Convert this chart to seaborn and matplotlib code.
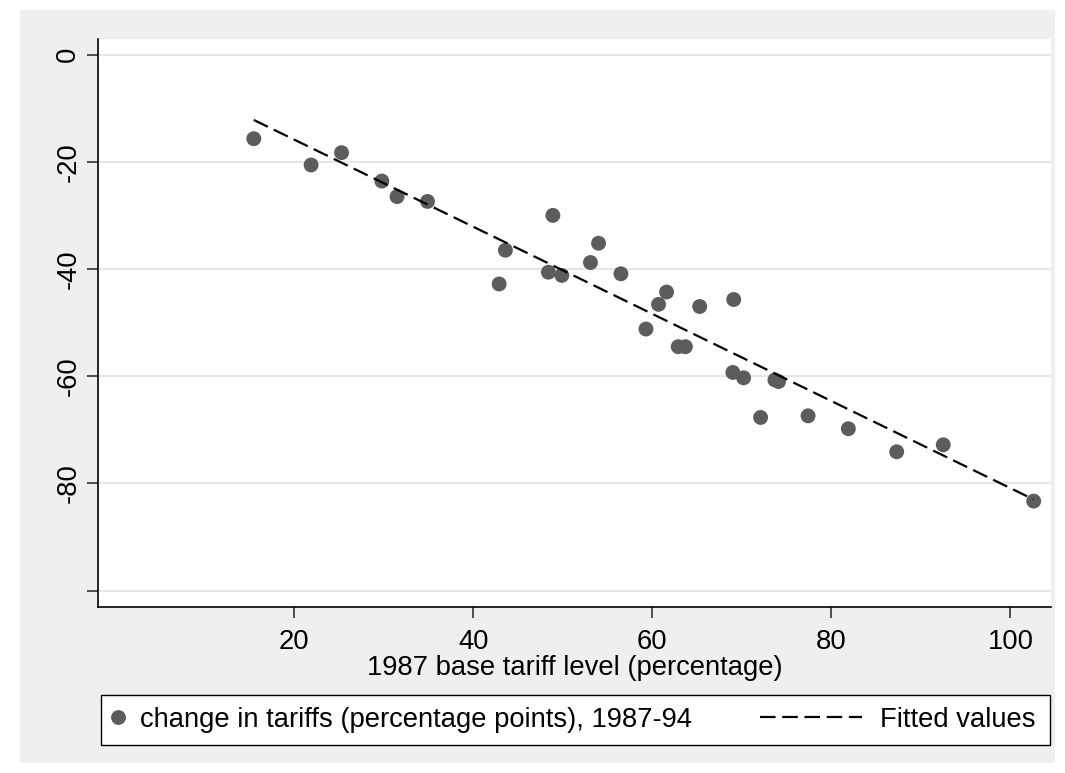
import matplotlib
matplotlib.use("Agg")
import matplotlib.pyplot as plt
import seaborn as sns
import pandas as pd
from matplotlib.patches import Rectangle
from matplotlib.lines import Line2D

# ---- data ----
base_tariff = [15.5, 21.9, 25.3, 29.8, 31.5, 34.9, 42.9, 43.6, 48.4, 48.9,
               49.9, 53.1, 54.0, 56.5, 59.3, 60.7, 61.6, 62.9, 63.7, 65.3,
               69.0, 69.1, 70.2, 72.1, 73.7, 74.1, 77.4, 81.9, 87.3, 92.5,
               102.6]
tariff_change = [-15.7, -20.6, -18.3, -23.6, -26.5, -27.4, -42.8, -36.5, -40.6, -30.0,
                 -41.2, -38.8, -35.2, -40.9, -51.2, -46.6, -44.3, -54.5, -54.5, -47.0,
                 -59.3, -45.7, -60.3, -67.7, -60.7, -61.0, -67.4, -69.8, -74.1, -72.8,
                 -83.3]
fit_x = [15.5, 102.6]
fit_y = [-12.2, -83.0]
x_ticks = [20, 40, 60, 80, 100]
y_ticks = [0, -20, -40, -60, -80, -100]
y_ticklabels = ["0", "-20", "-40", "-60", "-80", ""]
x_label = "1987 base tariff level (percentage)"
scatter_label = "change in tariffs (percentage points), 1987-94"
fit_label = "Fitted values"

sns.set_theme(style="white")
plt.rcParams['font.family'] = ['Liberation Sans', 'DejaVu Sans']
plt.rcParams['text.color'] = 'black'

FS = 19.7
DOT = "#5c5c5c"
DASH = [7.0, 3.0]
LW = 1.6

W, H = 1065, 773
fig = plt.figure(figsize=(W / 100, H / 100), dpi=100, facecolor="white")
bg = "#efefef"
fig.patches.append(Rectangle((20 / W, 1 - 763 / H), (1055 - 20) / W, (763 - 10) / H,
                             transform=fig.transFigure, facecolor=bg, edgecolor="none",
                             zorder=-10))
# legend box
fig.patches.append(Rectangle((101 / W, 1 - 745 / H), (1050 - 101) / W, (745 - 695) / H,
                             transform=fig.transFigure, facecolor="white",
                             edgecolor="black", lw=1.0, zorder=-5))

left, right, top, bottom = 98, 1050.7, 39, 606.7
ax = fig.add_axes([left / W, 1 - bottom / H, (right - left) / W, (bottom - top) / H])
ax.set_zorder(1)
ax.set_facecolor("white")

df = pd.DataFrame({"x": base_tariff, "y": tariff_change})
fit = pd.DataFrame({"x": fit_x, "y": fit_y})

sns.scatterplot(data=df, x="x", y="y", ax=ax, color=DOT, s=115,
                edgecolor="none", linewidth=0, zorder=3)
sns.lineplot(data=fit, x="x", y="y", ax=ax, color="black", lw=LW, zorder=4)
ax.lines[-1].set_dashes(DASH)

ax.set_xlim(-1.9, 104.5)
ax.set_ylim(-103.0, 2.9)
ax.set_xticks(x_ticks)
ax.set_yticks(y_ticks)
ax.set_yticklabels(y_ticklabels, rotation=90, va="center")
ax.yaxis.grid(True, color="#e6e6e6", lw=1.6)
ax.xaxis.grid(False)
ax.set_axisbelow(True)

for s in ["top", "right"]:
    ax.spines[s].set_visible(False)
for s in ["left", "bottom"]:
    ax.spines[s].set_color("black")
    ax.spines[s].set_linewidth(1.2)

ax.tick_params(axis="both", which="major", direction="out", length=8, width=1.2,
               color="#333333", labelsize=FS, labelcolor="black", pad=8,
               left=True, bottom=True)
ax.tick_params(axis="y", pad=4)
ax.set_xlabel(x_label, fontsize=FS, color="black", labelpad=0)
ax.set_ylabel("")

px_per_em = FS * 100 / 72.0
h1 = [Line2D([], [], marker="o", linestyle="none", color=DOT, markersize=10.7,
             markeredgewidth=0)]
leg1 = fig.legend(h1, [scatter_label], loc="center left",
                  bbox_to_anchor=(108 / W, 1 - 720 / H), frameon=False, fontsize=FS,
                  labelcolor="black", handlelength=20 / px_per_em,
                  handletextpad=12 / px_per_em, borderpad=0, borderaxespad=0)
h2 = [Line2D([], [], color="black", lw=LW, dashes=DASH)]
leg2 = fig.legend(h2, [fit_label], loc="center left",
                  bbox_to_anchor=(760 / W, 1 - 720 / H), frameon=False, fontsize=FS,
                  labelcolor="black", handlelength=102 / px_per_em,
                  handletextpad=18 / px_per_em, borderpad=0, borderaxespad=0)

fig.savefig("out.png", dpi=100, facecolor="white")
